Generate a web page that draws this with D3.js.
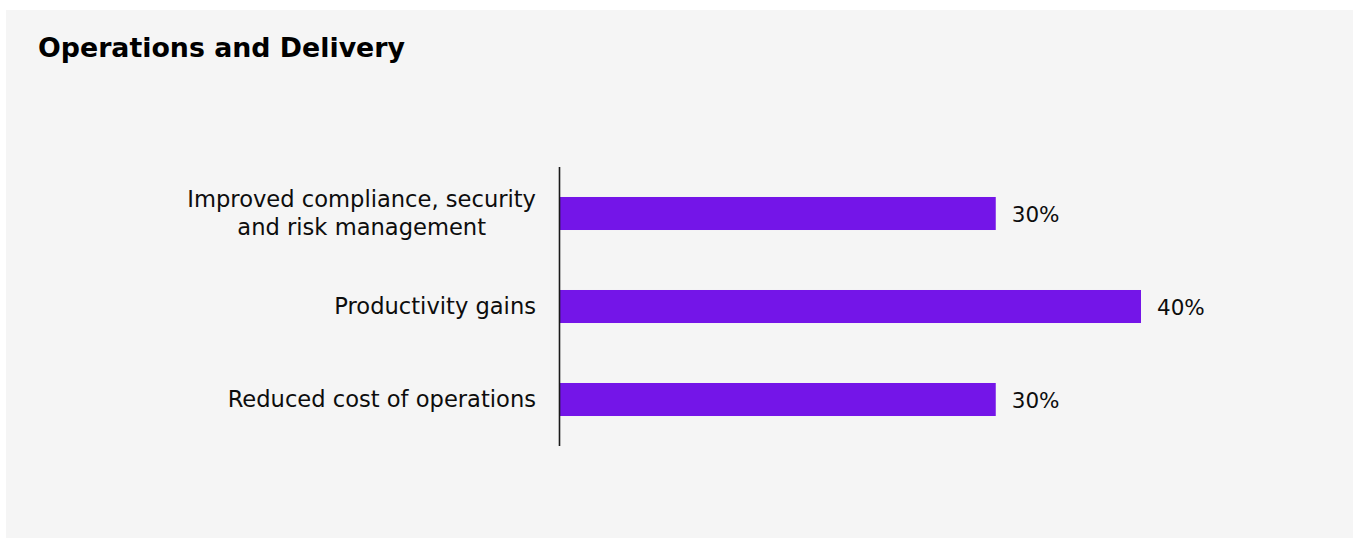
<!DOCTYPE html>
<html>
<head>
<meta charset="utf-8">
<script src="https://cdn.jsdelivr.net/npm/d3@7"></script>
<style>
  html, body { margin: 0; padding: 0; background: #ffffff; }
  svg { display: block; }
  text { font-family: "DejaVu Sans", "Liberation Sans", Arial, sans-serif; fill: #0d0d0d; }
</style>
</head>
<body>
<svg id="chart" width="1353" height="538"></svg>
<script>
// Chart data
const title = "Operations and Delivery";
const categories = [
  ["Improved compliance, security", "and risk management"],
  ["Productivity gains"],
  ["Reduced cost of operations"]
];
const values = [30, 40, 30];
const valueLabels = ["30%", "40%", "30%"];

const svg = d3.select("#chart");

// Panel background
svg.append("rect")
  .attr("x", 6).attr("y", 10)
  .attr("width", 1353 - 6).attr("height", 538 - 10)
  .attr("fill", "#f5f5f5");

// Title
svg.append("text")
  .attr("x", 38).attr("y", 57)
  .attr("font-size", 26.8)
  .attr("font-weight", "bold")
  .style("fill", "#000")
  .text(title);

// Scales
const axisX = 559.5;
const x = d3.scaleLinear().domain([0, 40]).range([560, 1141]);
const y = d3.scaleBand()
  .domain(d3.range(categories.length))
  .range([167, 446])
  .paddingInner(0.645)
  .paddingOuter(0.3225);

const g = svg.append("g");

// Bars
g.selectAll("rect.bar")
  .data(values)
  .join("rect")
  .attr("class", "bar")
  .attr("x", x(0))
  .attr("y", (d, i) => y(i))
  .attr("width", d => x(d) - x(0))
  .attr("height", y.bandwidth())
  .attr("fill", "#7415e8");

// Value labels
g.selectAll("text.value")
  .data(values)
  .join("text")
  .attr("class", "value")
  .attr("x", d => x(d) + 16)
  .attr("y", (d, i) => y(i) + y.bandwidth() / 2 + 8.3)
  .attr("font-size", 21.5)
  .text((d, i) => valueLabels[i]);

// Category labels (multi-line labels are centred within a right-aligned block)
const labelRight = 536;
const lineHeight = 28.3;
const fontSize = 22.6;
categories.forEach((lines, i) => {
  const cy = y(i) + y.bandwidth() / 2;
  // measure the widest line to align the block's right edge
  const t = g.append("text").attr("font-size", fontSize);
  const widths = lines.map(l => {
    t.text(l);
    return t.node().getComputedTextLength();
  });
  t.remove();
  const maxW = d3.max(widths);
  const centreX = labelRight - maxW / 2;
  const firstBaseline = cy + 7.4 - (lines.length - 1) * lineHeight / 2;
  const label = g.append("text")
    .attr("font-size", fontSize)
    .attr("text-anchor", "middle");
  lines.forEach((l, j) => {
    label.append("tspan")
      .attr("x", centreX)
      .attr("y", firstBaseline + j * lineHeight)
      .text(l);
  });
});

// Category axis line
svg.append("line")
  .attr("x1", axisX).attr("x2", axisX)
  .attr("y1", 167).attr("y2", 446)
  .attr("stroke", "#1a1a1a")
  .attr("stroke-width", 1.6);
</script>
</body>
</html>
